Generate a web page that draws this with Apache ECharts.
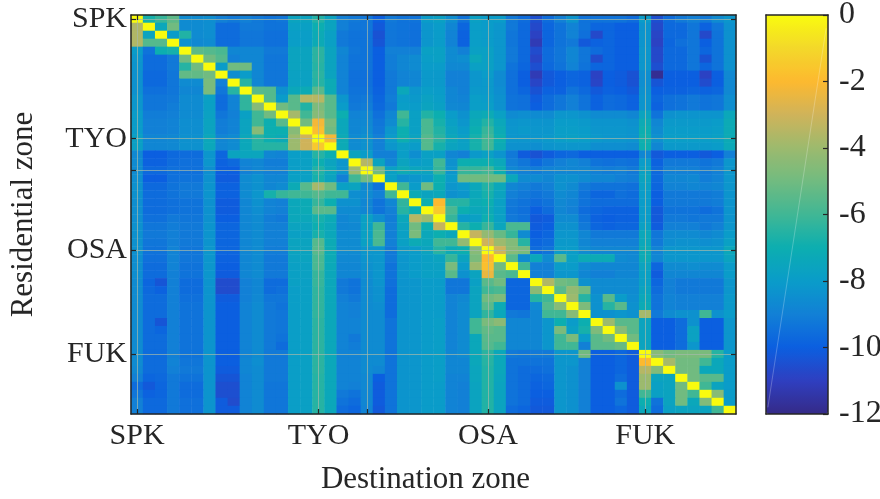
<!DOCTYPE html>
<html><head><meta charset="utf-8">
<script src="https://cdn.jsdelivr.net/npm/echarts@6/dist/echarts.min.js"></script>
<style>html,body{margin:0;padding:0;background:#fff}#c{width:880px;height:499px}</style>
</head><body><div id="c"></div>
<script>
const zoneLabels = {0:'SPK',15:'TYO',29:'OSA',42:'FUK'};
const tickZones = [0,15,19,29,42];
const colorbarTicks = [0,-2,-4,-6,-8,-10,-12];
const parula = ['#352a87','#2f3fc0','#0b5fe0','#1280d6','#0a9cc9','#0caeb0','#40b795','#71bb80','#9cba6e','#cfb35a','#fdb92f','#f3d82a','#f9fb0e'];
const r00=[0,-6.8,-6.2,-5.4,-8.6,-8.6,-8.5,-9.0,-9.2,-9.0,-9.2,-9.4,-9.3,-7.6,-7.6,-6.6,-7.6,-9.0,-9.2,-9.3,-10.0,-9.2,-9.4,-9.4,-8.0,-7.8,-8.5,-9.4,-7.8,-8.0,-8.0,-9.2,-9.6,-10.5,-9.6,-9.0,-8.3,-9.4,-9.4,-9.4,-9.4,-9.6,-8.0,-10.5,-9.6,-9.2,-9.0,-9.2,-8.6,-8.2];
const r01=[-3.6,0,-7.4,-5.0,-8.6,-8.6,-8.5,-9.6,-9.6,-9.2,-9.2,-9.4,-9.4,-7.8,-7.8,-7.0,-7.6,-9.0,-9.3,-9.3,-10.2,-9.3,-9.4,-9.5,-8.2,-8.0,-8.8,-9.8,-7.9,-8.0,-8.2,-9.2,-9.7,-10.7,-9.8,-9.4,-8.9,-9.4,-9.8,-9.8,-10.0,-10.0,-8.3,-10.7,-9.7,-9.7,-9.3,-9.9,-9.3,-8.4];
const r02=[-3.6,-7.6,0,-8.0,-6.6,-8.6,-8.5,-9.6,-9.6,-9.3,-9.3,-9.5,-9.5,-7.9,-7.9,-7.2,-7.8,-9.2,-9.4,-9.4,-10.4,-9.3,-9.4,-9.5,-8.2,-8.0,-8.9,-9.9,-7.9,-8.0,-8.2,-9.3,-9.7,-10.9,-9.8,-9.4,-8.9,-9.5,-10.7,-9.8,-10.0,-10.0,-8.3,-10.8,-9.7,-9.7,-9.3,-10.7,-9.4,-8.4];
const r03=[-3.6,-5.6,-5.6,0,-8.4,-8.7,-8.6,-9.6,-9.6,-9.3,-9.3,-9.5,-9.5,-7.9,-7.9,-7.2,-7.8,-9.2,-9.4,-9.4,-10.3,-9.3,-9.4,-9.5,-8.2,-8.0,-8.9,-9.9,-7.9,-8.0,-8.2,-9.3,-9.7,-11.2,-9.8,-9.4,-9.2,-10.2,-9.9,-9.8,-10.0,-10.0,-8.3,-10.9,-9.8,-9.5,-9.3,-10.0,-9.4,-8.4];
const r04=[-8.0,-9.4,-7.0,-6.8,0,-5.4,-5.6,-5.8,-8.8,-8.8,-8.8,-9.2,-9.2,-7.6,-7.6,-6.4,-7.6,-8.8,-9.3,-9.4,-10.0,-9.0,-9.0,-9.0,-7.8,-7.8,-8.6,-9.0,-7.8,-7.8,-8.2,-9.2,-9.7,-10.6,-9.6,-9.3,-8.8,-9.3,-9.6,-9.8,-10.0,-10.0,-8.2,-10.7,-9.7,-9.7,-9.3,-9.8,-9.4,-8.4];
const r05=[-8.2,-9.6,-9.6,-9.2,-5.0,0,-5.0,-5.6,-9.0,-8.8,-8.8,-9.3,-9.3,-7.6,-7.6,-6.4,-7.6,-8.9,-9.4,-9.4,-10.0,-9.1,-8.8,-8.6,-7.9,-7.8,-8.6,-8.5,-7.4,-7.8,-8.2,-9.2,-9.7,-10.8,-9.6,-9.3,-8.8,-9.3,-10.6,-9.8,-10.0,-10.0,-8.2,-10.7,-9.7,-9.7,-9.3,-10.4,-9.4,-8.4];
const r06=[-8.3,-9.6,-9.6,-9.2,-6.5,-5.0,0,-8.0,-5.0,-5.0,-8.8,-9.3,-9.3,-7.6,-7.6,-6.5,-7.6,-8.9,-9.4,-9.4,-10.0,-9.1,-8.8,-8.6,-8.0,-8.0,-8.7,-8.7,-7.8,-7.8,-8.2,-9.4,-9.8,-10.5,-9.7,-9.4,-8.9,-9.4,-9.8,-9.8,-10.0,-10.0,-8.2,-10.5,-9.7,-9.7,-9.3,-9.8,-9.4,-8.4];
const r07=[-8.4,-9.7,-9.7,-9.3,-5.3,-5.3,-5.0,0,-8.5,-8.0,-8.8,-9.3,-9.3,-7.7,-7.7,-6.4,-7.6,-8.9,-9.5,-9.5,-10.0,-9.2,-8.9,-8.8,-8.1,-8.1,-9.0,-9.0,-8.2,-8.0,-8.6,-9.5,-10.0,-11.2,-10.2,-10.0,-9.8,-9.9,-10.9,-10.0,-10.1,-10.4,-8.5,-11.8,-10.0,-10.0,-10.0,-10.9,-10.0,-8.7];
const r08=[-8.4,-9.7,-9.7,-9.3,-8.6,-8.6,-4.8,-9.0,0,-6.5,-8.8,-9.3,-9.3,-7.7,-7.7,-6.5,-7.2,-8.9,-9.5,-9.5,-10.0,-9.2,-8.9,-8.8,-8.1,-8.1,-9.0,-9.0,-8.2,-8.1,-8.6,-9.5,-10.0,-10.8,-10.2,-10.0,-9.8,-9.9,-10.8,-10.0,-10.1,-10.4,-8.5,-10.3,-10.0,-10.0,-10.0,-10.6,-10.0,-8.7];
const r09=[-8.4,-9.5,-9.5,-9.3,-8.8,-8.8,-4.8,-9.3,-6.5,0,-5.5,-5.6,-8.4,-7.4,-7.2,-5.5,-7.2,-8.9,-9.4,-9.4,-9.9,-9.2,-7.4,-8.2,-7.9,-8.0,-8.8,-9.0,-8.1,-8.1,-8.5,-9.5,-9.8,-10.4,-9.9,-9.9,-9.4,-9.7,-10.2,-9.9,-10.0,-10.2,-8.4,-10.0,-9.9,-9.9,-9.8,-9.9,-9.8,-8.7];
const r10=[-8.2,-9.3,-9.3,-9.2,-8.6,-8.6,-7.8,-9.6,-8.9,-6.3,0,-5.6,-8.0,-5.5,-3.5,-3.5,-5.5,-8.2,-9.3,-9.2,-9.8,-9.1,-8.0,-8.1,-7.7,-7.9,-8.8,-8.9,-7.9,-8.0,-8.4,-9.4,-9.5,-10.1,-9.6,-9.3,-9.0,-9.4,-9.9,-9.6,-9.7,-9.9,-8.3,-9.8,-9.5,-9.4,-9.2,-9.4,-9.3,-8.5];
const r11=[-8.2,-9.3,-9.3,-9.1,-8.6,-8.6,-7.8,-9.6,-8.9,-6.3,-4.5,0,-5.0,-5.5,-6.6,-4.7,-5.5,-8.0,-9.2,-9.1,-9.7,-9.2,-7.9,-8.0,-7.6,-7.8,-8.7,-8.8,-7.9,-7.9,-8.4,-9.4,-9.5,-10.0,-9.6,-9.3,-9.0,-9.4,-9.9,-9.6,-9.7,-9.9,-8.3,-9.9,-9.5,-9.4,-9.2,-9.4,-9.3,-8.5];
const r12=[-8.0,-9.1,-9.1,-9.0,-8.6,-8.6,-7.7,-9.3,-9.0,-7.8,-6.0,-5.0,0,-3.8,-6.0,-4.5,-5.5,-7.0,-8.9,-8.8,-9.5,-8.8,-6.0,-7.8,-6.6,-7.0,-8.0,-8.4,-7.4,-7.2,-7.8,-8.6,-8.5,-8.6,-8.6,-8.2,-8.2,-8.4,-8.6,-8.6,-8.6,-8.8,-7.6,-9.4,-8.4,-8.3,-8.3,-8.3,-8.3,-7.4];
const r13=[-8.0,-9.0,-9.0,-8.9,-8.5,-8.5,-7.6,-9.1,-8.9,-7.6,-6.0,-7.0,-5.5,0,-5.0,-2.2,-4.8,-7.4,-8.8,-8.7,-9.3,-8.6,-6.5,-7.8,-5.8,-6.8,-7.8,-8.2,-7.2,-6.6,-7.4,-8.3,-8.2,-8.3,-8.3,-8.0,-8.0,-8.1,-8.3,-8.3,-8.3,-8.4,-7.2,-8.8,-8.1,-8.1,-8.1,-8.1,-8.0,-7.2];
const r14=[-8.0,-9.0,-9.0,-8.9,-8.5,-8.5,-7.6,-9.1,-8.9,-7.6,-4.5,-7.0,-7.0,-4.5,0,-1.8,-5.0,-7.4,-8.8,-8.6,-9.2,-8.2,-7.0,-7.8,-5.8,-6.6,-7.6,-8.0,-7.0,-6.2,-7.2,-8.2,-8.1,-8.2,-8.2,-7.9,-7.9,-8.0,-8.2,-8.2,-8.2,-8.3,-7.0,-8.6,-8.0,-8.0,-8.0,-8.0,-7.9,-7.2];
const r15=[-7.8,-8.8,-8.8,-8.7,-8.4,-8.4,-7.4,-8.8,-8.6,-7.4,-6.5,-7.0,-7.2,-4.0,-3.0,0,-2.2,-7.2,-8.6,-8.4,-9.0,-8.0,-7.0,-7.6,-5.6,-6.4,-7.4,-7.8,-6.8,-6.0,-7.0,-8.2,-8.2,-8.2,-8.1,-7.9,-7.8,-7.9,-8.1,-8.2,-8.2,-8.3,-6.9,-8.4,-7.9,-7.9,-7.9,-7.9,-7.8,-7.2];
const r16=[-7.8,-8.8,-8.8,-8.7,-8.4,-8.4,-7.4,-8.8,-8.6,-7.4,-6.5,-6.5,-6.5,-4.0,-3.0,-1.5,0,-7.2,-8.6,-8.4,-9.0,-8.2,-7.8,-8.0,-5.6,-6.8,-7.6,-7.8,-6.8,-6.0,-7.2,-8.4,-8.4,-8.5,-8.3,-8.2,-8.2,-8.2,-8.5,-8.5,-8.5,-8.6,-7.0,-8.8,-8.1,-8.1,-8.1,-8.1,-8.0,-7.3];
const r17=[-8.7,-10.0,-10.0,-9.7,-9.6,-9.6,-8.2,-9.8,-7.6,-7.5,-7.5,-8.8,-8.9,-7.9,-7.8,-6.5,-7.0,0,-7.6,-8.0,-9.0,-9.0,-7.9,-8.5,-7.8,-7.8,-8.8,-9.0,-8.1,-7.8,-8.3,-9.2,-10.1,-10.4,-10.1,-9.8,-9.7,-10.0,-10.0,-10.0,-10.0,-10.0,-8.8,-10.2,-10.0,-10.0,-10.0,-10.2,-10.0,-9.0];
const r18=[-8.6,-9.9,-9.9,-9.6,-9.5,-9.5,-8.2,-9.9,-9.7,-8.9,-8.8,-9.1,-9.1,-7.9,-7.8,-7.0,-7.6,-8.2,0,-3.5,-7.6,-8.8,-7.6,-8.0,-7.8,-6.0,-8.4,-7.0,-7.0,-7.0,-7.4,-9.0,-9.3,-9.7,-9.3,-9.0,-8.8,-9.0,-9.4,-9.5,-9.4,-9.5,-8.0,-9.9,-9.2,-9.2,-9.2,-9.4,-9.2,-8.2];
const r19=[-8.6,-9.7,-9.7,-9.5,-9.5,-9.5,-8.5,-10.0,-10.0,-9.0,-8.8,-9.0,-9.0,-7.9,-7.8,-6.6,-7.4,-8.2,-4.0,0,-5.0,-7.8,-7.2,-7.5,-7.6,-6.2,-8.2,-6.2,-6.2,-6.0,-7.0,-8.7,-9.0,-9.1,-8.9,-8.8,-8.8,-8.8,-9.0,-9.1,-9.0,-9.2,-7.8,-9.7,-9.0,-9.0,-9.0,-9.2,-9.0,-8.2];
const r20=[-8.5,-10.0,-10.0,-9.5,-9.4,-9.4,-8.4,-10.1,-10.1,-8.6,-8.4,-8.8,-8.8,-7.8,-7.8,-6.8,-7.6,-9.0,-6.0,-5.0,0,-7.8,-8.4,-8.2,-8.0,-7.0,-8.0,-5.0,-5.0,-5.0,-5.0,-7.4,-8.6,-8.6,-8.8,-8.4,-8.4,-8.6,-8.8,-8.8,-9.0,-9.1,-7.6,-9.7,-8.8,-8.8,-8.7,-9.1,-8.9,-8.2];
const r21=[-8.4,-9.7,-9.7,-9.4,-9.2,-9.2,-8.3,-9.9,-9.9,-8.6,-8.4,-8.8,-8.6,-7.2,-5.5,-3.8,-5.0,-7.8,-7.6,-8.6,-9.4,0,-6.0,-8.0,-5.0,-7.0,-8.2,-8.0,-7.4,-6.6,-7.4,-8.8,-9.0,-9.2,-9.0,-8.4,-8.6,-9.2,-9.4,-9.4,-9.4,-9.5,-7.8,-9.8,-8.9,-8.9,-8.8,-8.9,-8.8,-8.2];
const r22=[-8.4,-9.6,-9.6,-9.4,-9.2,-9.2,-8.3,-9.9,-9.9,-8.6,-8.2,-6.8,-6.2,-6.0,-6.0,-5.6,-6.0,-6.0,-8.5,-8.6,-9.0,-6.0,0,-7.2,-7.6,-7.4,-8.4,-8.2,-7.4,-6.8,-7.6,-9.0,-9.2,-9.4,-9.2,-8.6,-8.8,-9.4,-9.8,-9.8,-9.5,-9.6,-8.0,-10.0,-9.2,-9.2,-9.2,-9.2,-9.1,-8.3];
const r23=[-8.5,-9.6,-9.6,-9.5,-9.4,-9.4,-8.4,-10.1,-10.1,-8.8,-8.4,-8.9,-9.0,-7.4,-7.2,-6.2,-7.0,-8.4,-8.4,-8.8,-9.4,-8.8,-6.3,0,-7.0,-2.0,-6.5,-6.5,-7.2,-7.0,-7.8,-9.2,-9.4,-9.6,-9.4,-8.7,-8.9,-9.4,-9.6,-9.6,-9.6,-9.6,-8.0,-10.0,-9.2,-9.2,-9.2,-9.2,-9.1,-8.3];
const r24=[-8.5,-9.6,-9.6,-9.5,-9.4,-9.4,-8.4,-10.1,-10.1,-8.8,-8.5,-8.9,-9.0,-7.4,-7.2,-5.5,-5.5,-8.6,-8.6,-8.8,-9.4,-9.0,-6.5,-7.0,0,-1.5,-5.8,-7.0,-7.4,-7.2,-7.8,-9.3,-9.5,-10.0,-9.6,-8.8,-9.0,-9.6,-9.8,-9.9,-9.9,-9.9,-8.0,-10.2,-9.4,-9.4,-9.4,-9.6,-9.4,-8.3];
const r25=[-8.5,-9.5,-9.5,-9.2,-9.3,-9.3,-8.4,-10.0,-10.0,-8.8,-8.6,-9.1,-9.2,-7.4,-7.4,-6.8,-7.2,-8.8,-8.6,-7.8,-8.5,-9.1,-7.4,-3.5,-4.0,0,-6.2,-8.0,-7.8,-7.0,-7.8,-9.2,-9.4,-10.2,-10.1,-8.6,-8.6,-9.4,-9.9,-10.0,-9.9,-9.9,-8.0,-10.2,-9.2,-9.2,-9.3,-9.2,-9.2,-8.3];
const r26=[-8.4,-9.3,-9.3,-9.1,-9.2,-9.2,-8.3,-9.8,-9.8,-8.8,-8.6,-9.0,-9.0,-7.6,-7.6,-7.0,-7.4,-8.8,-8.7,-7.8,-6.0,-9.0,-7.6,-5.0,-7.0,-3.2,0,-6.5,-7.0,-6.2,-7.5,-5.8,-5.8,-10.1,-10.0,-8.4,-8.4,-9.2,-9.8,-9.9,-9.8,-9.8,-7.8,-10.1,-9.0,-9.0,-9.0,-9.2,-9.0,-8.2];
const r27=[-8.4,-9.2,-9.2,-9.0,-9.2,-9.2,-8.3,-9.8,-9.8,-8.8,-8.6,-9.0,-9.0,-7.8,-7.8,-6.8,-7.4,-8.6,-8.6,-7.8,-5.8,-9.0,-7.8,-4.8,-7.4,-7.0,-7.4,0,-3.2,-4.2,-5.2,-6.2,-8.6,-10.0,-9.8,-8.2,-8.2,-8.8,-9.2,-9.2,-9.2,-9.2,-7.4,-9.3,-8.6,-8.6,-8.6,-8.8,-8.6,-8.0];
const r28=[-8.4,-9.3,-9.3,-9.0,-9.2,-9.2,-8.3,-9.8,-9.8,-8.8,-8.6,-9.0,-9.0,-7.6,-7.6,-5.6,-7.2,-8.6,-8.6,-7.8,-5.8,-9.0,-7.8,-7.2,-7.4,-6.0,-6.0,-4.2,0,-3.0,-4.0,-4.6,-6.5,-9.8,-9.6,-8.1,-8.1,-8.8,-9.0,-9.0,-9.0,-9.0,-7.4,-9.2,-8.5,-8.4,-8.4,-8.5,-8.4,-7.8];
const r29=[-8.4,-9.4,-9.4,-8.9,-9.3,-9.3,-8.2,-9.8,-9.8,-8.8,-8.6,-9.1,-9.1,-7.6,-7.6,-5.5,-7.2,-8.6,-8.6,-8.2,-8.2,-9.2,-8.1,-8.0,-7.6,-6.5,-7.2,-7.0,-4.5,0,-3.0,-4.5,-4.8,-9.6,-9.4,-8.0,-8.0,-8.6,-8.8,-8.8,-8.8,-8.8,-7.2,-8.9,-8.2,-8.2,-8.2,-8.2,-8.2,-7.4];
const r30=[-8.5,-9.5,-9.5,-8.9,-9.3,-9.3,-8.2,-9.9,-9.9,-8.8,-8.6,-9.2,-9.2,-7.7,-7.6,-5.8,-7.2,-8.7,-8.7,-8.3,-8.2,-9.2,-8.2,-8.0,-7.8,-7.6,-6.2,-7.6,-4.8,-2.0,0,-5.5,-8.6,-7.4,-8.6,-5.5,-7.8,-7.2,-7.2,-7.2,-8.6,-8.7,-7.2,-8.8,-8.2,-8.2,-8.2,-8.2,-8.2,-7.6];
const r31=[-8.5,-9.6,-9.6,-8.9,-9.4,-9.4,-8.2,-10.0,-10.0,-8.8,-8.6,-9.2,-9.2,-7.8,-7.7,-5.8,-7.3,-8.8,-8.8,-8.4,-8.2,-9.4,-8.2,-8.0,-7.8,-7.7,-4.8,-8.0,-4.0,-1.8,-5.0,0,-6.0,-9.0,-9.0,-8.0,-8.0,-8.6,-8.8,-8.8,-8.8,-8.8,-7.6,-9.8,-8.6,-8.6,-8.5,-8.6,-8.6,-8.0];
const r32=[-8.5,-9.6,-9.6,-9.0,-9.4,-9.4,-8.2,-10.1,-10.1,-8.8,-8.6,-9.2,-9.2,-7.8,-7.7,-6.2,-7.4,-8.8,-8.8,-8.5,-8.2,-9.4,-8.2,-8.0,-7.8,-7.8,-5.5,-8.4,-7.6,-2.4,-5.5,-5.8,0,-9.0,-9.0,-8.2,-8.2,-8.8,-9.0,-9.0,-8.8,-8.8,-7.8,-10.1,-8.8,-8.8,-8.8,-8.8,-8.8,-8.0];
const r33=[-8.6,-9.8,-10.3,-9.0,-9.6,-9.6,-8.3,-10.6,-10.6,-9.0,-8.8,-9.6,-9.6,-7.8,-7.8,-6.2,-7.4,-9.2,-9.4,-8.6,-8.3,-9.5,-8.3,-8.2,-8.0,-8.0,-9.3,-9.3,-7.8,-5.5,-5.0,-9.8,-9.8,0,-3.6,-5.0,-5.2,-8.4,-8.6,-8.6,-8.6,-8.6,-7.8,-9.8,-9.0,-9.2,-9.2,-9.2,-9.2,-8.2];
const r34=[-8.6,-9.7,-9.9,-9.0,-9.6,-9.6,-8.3,-10.6,-10.6,-9.0,-8.8,-9.6,-9.5,-7.9,-7.8,-6.3,-7.4,-9.2,-9.4,-8.6,-8.4,-9.6,-8.3,-8.2,-8.0,-8.0,-9.3,-9.3,-7.6,-6.0,-5.8,-9.8,-9.8,-4.4,0,-5.5,-4.2,-5.0,-8.6,-8.6,-8.6,-8.6,-7.6,-9.6,-9.0,-9.2,-9.2,-9.2,-9.2,-8.2];
const r35=[-8.6,-9.6,-9.6,-9.0,-9.5,-9.5,-8.3,-10.1,-10.1,-9.0,-8.7,-9.3,-9.3,-7.9,-7.8,-6.3,-7.4,-9.0,-9.2,-8.6,-8.4,-9.6,-8.3,-8.2,-8.0,-8.0,-8.9,-8.7,-7.6,-5.0,-4.7,-9.8,-9.8,-6.5,-6.0,0,-4.0,-6.5,-8.4,-5.5,-8.0,-8.5,-7.4,-9.4,-8.9,-9.0,-9.0,-9.0,-9.0,-8.1];
const r36=[-8.6,-9.6,-9.6,-9.0,-9.4,-9.4,-8.3,-10.0,-10.0,-8.9,-8.6,-9.2,-9.4,-7.9,-7.8,-6.3,-7.4,-8.9,-9.0,-8.6,-8.5,-9.6,-8.3,-8.2,-8.0,-8.0,-8.9,-8.6,-7.6,-5.5,-7.2,-9.8,-9.8,-8.6,-5.6,-4.5,0,-4.7,-8.4,-6.5,-5.5,-8.4,-7.2,-9.4,-8.9,-9.0,-9.0,-9.0,-9.0,-8.1];
const r37=[-8.6,-9.6,-9.6,-9.0,-9.4,-9.4,-8.3,-10.0,-10.0,-8.9,-8.6,-9.2,-9.3,-7.9,-7.8,-6.3,-7.4,-8.9,-9.0,-8.6,-8.6,-9.6,-8.3,-8.2,-8.0,-8.0,-8.9,-8.6,-7.6,-6.3,-7.4,-9.2,-9.3,-8.8,-6.0,-6.0,-4.5,0,-8.4,-8.4,-8.2,-8.4,-3.8,-9.2,-8.6,-8.4,-8.4,-6.0,-8.4,-8.0];
const r38=[-8.6,-9.6,-10.3,-9.0,-9.4,-9.4,-8.3,-10.0,-10.0,-8.9,-8.6,-9.2,-9.3,-7.9,-7.8,-6.4,-7.4,-8.9,-8.9,-8.6,-8.6,-9.4,-8.3,-8.2,-8.0,-7.9,-8.9,-8.6,-6.0,-4.8,-4.4,-8.8,-8.8,-8.8,-8.2,-7.0,-8.0,-7.0,0,-4.0,-5.5,-5.5,-7.6,-10.0,-10.0,-9.6,-8.4,-10.0,-10.0,-8.2];
const r39=[-8.6,-9.6,-9.8,-9.0,-9.4,-9.4,-8.3,-10.0,-10.0,-8.9,-8.6,-9.2,-9.3,-7.9,-7.8,-6.4,-7.4,-8.9,-8.9,-8.6,-8.6,-9.4,-8.3,-8.2,-8.0,-7.9,-8.9,-8.6,-6.0,-5.3,-5.5,-8.8,-8.8,-8.8,-8.2,-4.8,-7.8,-6.8,-4.7,0,-4.5,-5.5,-7.6,-10.0,-10.0,-9.6,-7.7,-10.0,-10.0,-8.2];
const r40=[-8.6,-9.6,-9.6,-9.0,-9.4,-9.4,-8.3,-10.0,-10.0,-8.9,-8.6,-9.2,-9.4,-7.9,-7.8,-6.4,-7.4,-8.9,-9.2,-8.6,-8.6,-9.4,-8.3,-8.2,-8.0,-7.9,-8.9,-8.6,-7.4,-5.5,-5.5,-8.8,-8.8,-8.8,-8.2,-6.0,-4.8,-8.0,-5.5,-5.0,0,-5.0,-7.6,-10.0,-10.0,-9.6,-7.7,-10.0,-10.0,-8.2];
const r41=[-8.6,-9.6,-9.6,-9.0,-9.4,-9.4,-8.3,-10.0,-10.0,-8.9,-8.6,-9.2,-9.6,-7.9,-7.8,-6.4,-7.4,-8.9,-9.1,-8.6,-8.6,-9.4,-8.3,-8.2,-8.0,-7.9,-8.9,-8.6,-7.4,-5.6,-6.0,-8.8,-8.8,-8.8,-8.2,-6.0,-6.0,-9.0,-5.5,-5.5,-5.2,0,-7.6,-10.0,-10.0,-9.6,-8.2,-10.0,-10.0,-8.2];
const r42=[-8.6,-9.6,-9.6,-9.0,-9.4,-9.4,-8.3,-10.0,-10.0,-8.9,-8.6,-9.2,-9.2,-7.9,-7.8,-6.4,-7.4,-8.9,-8.9,-8.6,-8.6,-9.4,-8.3,-8.2,-8.0,-7.9,-8.8,-8.6,-7.4,-6.4,-7.4,-9.2,-9.3,-9.2,-9.2,-8.2,-8.2,-5.0,-10.0,-10.0,-9.8,-10.1,0,-4.5,-5.0,-4.8,-4.8,-4.8,-6.5,-8.0];
const r43=[-8.6,-9.6,-9.6,-8.9,-9.3,-9.3,-8.3,-10.0,-10.0,-8.8,-8.5,-9.2,-9.2,-7.9,-7.8,-6.4,-7.4,-8.9,-8.9,-8.6,-8.6,-9.4,-8.3,-8.2,-8.0,-7.9,-8.8,-8.8,-7.4,-6.5,-7.4,-9.4,-9.4,-9.4,-9.4,-8.2,-8.2,-9.0,-10.0,-10.0,-9.8,-10.1,-2.0,0,-3.8,-5.0,-5.0,-6.0,-7.4,-8.0];
const r44=[-8.7,-9.6,-9.6,-9.0,-9.2,-9.2,-8.3,-10.1,-10.1,-8.8,-8.6,-9.2,-9.2,-7.9,-7.8,-6.4,-7.4,-8.9,-8.9,-8.6,-8.8,-9.4,-8.3,-8.2,-8.0,-7.9,-8.8,-8.8,-7.5,-6.6,-7.4,-9.4,-9.6,-9.6,-9.5,-8.2,-8.4,-9.0,-10.0,-10.0,-9.8,-10.1,-3.5,-4.6,0,-5.0,-5.0,-7.4,-7.4,-8.0];
const r45=[-9.0,-9.8,-9.7,-9.2,-9.4,-9.4,-8.3,-10.3,-10.3,-8.9,-8.6,-9.2,-9.2,-7.9,-7.8,-6.5,-7.4,-8.9,-8.9,-8.7,-10.0,-9.4,-8.3,-8.2,-8.0,-7.9,-8.9,-8.9,-7.5,-6.6,-7.5,-9.4,-9.6,-9.8,-9.7,-8.2,-8.4,-9.0,-10.0,-10.0,-9.6,-10.1,-4.0,-7.6,-7.6,0,-5.0,-5.5,-5.5,-8.0];
const r46=[-9.6,-10.2,-9.8,-9.2,-9.6,-9.6,-8.3,-10.5,-10.5,-8.9,-8.6,-9.3,-9.3,-7.9,-7.8,-6.5,-7.4,-8.9,-9.0,-8.7,-10.1,-9.4,-8.3,-8.2,-8.0,-8.0,-8.9,-9.0,-7.6,-6.6,-7.6,-9.4,-9.6,-9.9,-9.8,-8.2,-8.4,-9.0,-10.0,-10.0,-8.4,-10.1,-4.0,-7.8,-7.6,-5.0,0,-6.0,-7.6,-8.0];
const r47=[-9.3,-9.9,-9.8,-9.2,-9.6,-9.6,-8.3,-10.5,-10.5,-8.9,-8.6,-9.3,-9.3,-7.9,-7.8,-6.5,-7.4,-9.2,-9.4,-8.8,-10.1,-9.4,-8.3,-8.2,-8.0,-8.0,-8.9,-9.0,-7.6,-6.6,-7.6,-9.4,-9.6,-10.0,-10.0,-8.2,-8.4,-9.0,-10.0,-10.0,-9.6,-10.1,-6.0,-7.8,-7.6,-5.0,-6.0,0,-4.5,-8.0];
const r48=[-9.0,-9.7,-9.7,-9.2,-9.5,-9.5,-8.3,-10.1,-10.6,-8.9,-8.6,-9.3,-9.3,-7.9,-7.8,-6.5,-7.4,-9.4,-9.6,-8.8,-10.1,-9.4,-8.3,-8.2,-8.0,-8.0,-8.9,-9.0,-7.6,-6.6,-7.6,-9.4,-9.6,-10.1,-10.1,-8.2,-8.4,-9.0,-10.0,-10.0,-9.4,-10.1,-7.0,-9.4,-7.6,-5.0,-7.4,-4.6,0,-8.0];
const r49=[-9.0,-9.7,-9.7,-9.2,-9.5,-9.5,-8.3,-10.1,-10.1,-8.9,-8.6,-9.3,-9.3,-7.9,-7.8,-6.5,-7.4,-9.6,-9.8,-8.9,-10.2,-9.4,-8.3,-8.2,-8.0,-8.0,-8.9,-9.0,-7.6,-6.6,-7.6,-9.6,-9.8,-10.2,-10.2,-8.2,-8.4,-9.0,-10.0,-10.0,-9.8,-10.1,-7.4,-9.6,-7.8,-7.6,-7.6,-7.6,-6.0,0];
const matrix=[r00,r01,r02,r03,r04,r05,r06,r07,r08,r09,r10,r11,r12,r13,r14,r15,r16,r17,r18,r19,r20,r21,r22,r23,r24,r25,r26,r27,r28,r29,r30,r31,r32,r33,r34,r35,r36,r37,r38,r39,r40,r41,r42,r43,r44,r45,r46,r47,r48,r49];

const zones = matrix.map((_, i) => String(i));
const cells = [];
matrix.forEach((row, i) => row.forEach((v, j) => cells.push([j, i, v])));

const FONT = '"Liberation Serif","Times New Roman",serif';
const INK = '#262626';
const showTick = i => tickZones.includes(i);
const heatAxis = (position, labelExtra, extra) => Object.assign({
  type: 'category', data: zones, position, z: 6,
  axisLine: {show: true, onZero: false, lineStyle: {color: INK, width: 1.5}},
  axisTick: {show: true, inside: true, length: 5, alignWithLabel: true, interval: showTick, lineStyle: {color: INK, width: 1.2}},
  axisLabel: labelExtra
    ? Object.assign({show: true, interval: i => i in zoneLabels, formatter: (v, i) => zoneLabels[i] || '', color: INK, fontFamily: FONT, fontSize: 30}, labelExtra)
    : {show: false},
  splitLine: {show: false}, splitArea: {show: false}
}, extra);
const frameAxis = (position, gridIndex) => ({
  type: 'value', position, gridIndex, min: 0, max: 1, z: 6,
  axisLine: {show: true, onZero: false, lineStyle: {color: INK, width: 1.5}},
  axisTick: {show: false}, axisLabel: {show: false}, splitLine: {show: false}
});

const chart = echarts.init(document.getElementById('c'), null, {renderer: 'canvas'});
chart.setOption({
  animation: false,
  backgroundColor: '#fff',
  grid: [
    {left: 131, top: 15, width: 605, height: 399, outerBoundsMode: 'none'},
    {left: 766, top: 15, width: 62, height: 399, outerBoundsMode: 'none'}
  ],
  xAxis: [
    heatAxis('bottom', {margin: 7}, {gridIndex: 0, name: 'Destination zone', nameLocation: 'middle', nameGap: 50,
      nameTextStyle: {color: INK, fontFamily: FONT, fontSize: 31, padding: [0, 16, 0, 0]}}),
    heatAxis('top', null, {gridIndex: 0}),
    frameAxis('bottom', 1),
    frameAxis('top', 1)
  ],
  yAxis: [
    heatAxis('left', {margin: 4, padding: [5, 0, 0, 0]}, {gridIndex: 0, inverse: true, name: 'Residential zone', nameLocation: 'middle', nameGap: 92, nameRotate: 90,
      nameTextStyle: {color: INK, fontFamily: FONT, fontSize: 31}}),
    heatAxis('right', null, {gridIndex: 0, inverse: true}),
    {type: 'value', gridIndex: 1, position: 'right', min: -12, max: 0, interval: 2, z: 6,
      axisLine: {show: true, onZero: false, lineStyle: {color: INK, width: 1.5}},
      axisTick: {show: true, inside: true, length: 5, lineStyle: {color: INK, width: 1.2}},
      axisLabel: {color: INK, fontFamily: FONT, fontSize: 32, margin: 11, formatter: v => colorbarTicks.includes(v) ? String(v) : ''},
      splitLine: {show: false}},
    Object.assign(frameAxis('left', 1), {min: -12, max: 0})
  ],
  visualMap: {
    type: 'continuous', min: -12, max: 0, seriesIndex: 0, show: true, calculable: false,
    left: 766, top: 15, itemWidth: 62, itemHeight: 399, padding: 0, text: null, showLabel: false,
    inRange: {color: parula}
  },
  series: [
    {
      type: 'heatmap', xAxisIndex: 0, yAxisIndex: 0, data: cells, progressive: 0,
      itemStyle: {borderWidth: 0},
      markLine: {
        silent: true, symbol: 'none', label: {show: false}, animation: false,
        lineStyle: {color: 'rgba(165,185,170,0.7)', width: 1, type: 'solid'},
        data: tickZones.flatMap(i => [{xAxis: zones[i]}, {yAxis: zones[i]}])
      }
    },
    {
      type: 'line', xAxisIndex: 2, yAxisIndex: 2, z: 5, silent: true, showSymbol: false,
      lineStyle: {color: 'rgba(255,255,255,0.35)', width: 0.7},
      data: [[0.03,-11.8],[0.97,-0.4]]
    }
  ]
});
</script></body></html>
